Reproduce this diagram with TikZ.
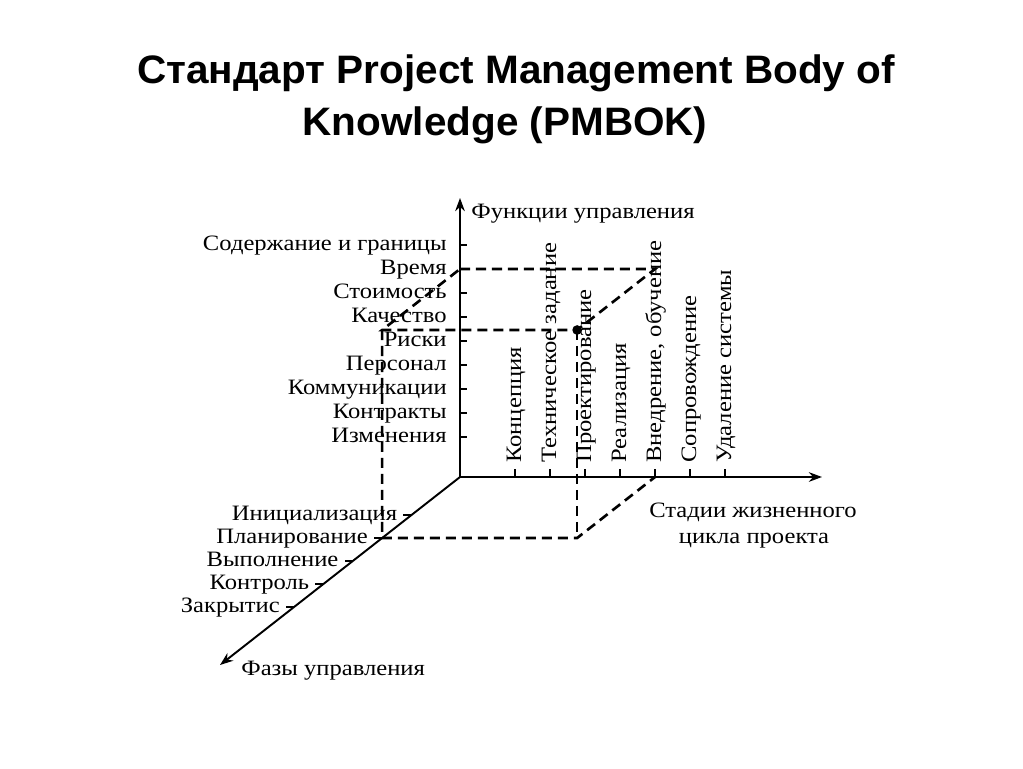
\documentclass[tikz,border=0pt]{standalone}
\usepackage{fontspec}
\setmainfont{Liberation Serif}[FakeStretch=1.12]
\newfontfamily\headfont{Liberation Sans}[FakeStretch=1.02]
\usetikzlibrary{arrows.meta,calc,positioning}
\tikzset{%
	axisline/.style = {line width=1.1pt, -{Stealth[length=7.5pt,width=5.5pt]}},
	tick/.style     = {line width=0.9pt},
	guide/.style    = {line width=1.5pt, dash pattern=on 5.7pt off 3.4pt}, % dashed box
	lbl/.style      = {font=\fontsize{12.5}{14}\selectfont, inner sep=0pt},
	heading/.style  = {font=\headfont\bfseries\fontsize{22.6}{26}\selectfont, inner sep=0pt},
	point/.style    = {circle, fill, inner sep=0pt, minimum size=5.5pt},
}

\begin{document}
\begin{tikzpicture}[x=0.02cm, y=-0.02cm]
	\useasboundingbox (0,0) rectangle (1023,768);
	\node[heading, anchor=base] (t1) at (516,83) {Стандарт Project Management Body of};
	\node[heading, anchor=base] (t2) at (505,135) {Knowledge (PMBOK)};
	% axes
	\coordinate (O) at (460,477);
	\coordinate (fup) at (460,198);
	\coordinate (sright) at (822,477);
	\coordinate (pdown) at (220,665);
	\draw[axisline] (O) -- (fup);
	\draw[axisline] (O) -- (sright);
	\draw[axisline] (O) -- (pdown);
	% functions
	\foreach \txt [count=\i from 0] in {Содержание и границы, Время, Стоимость, Качество, Риски, Персонал, Коммуникации, Контракты, Изменения}{
		\coordinate (ft\i) at (460,245+24*\i);
		\draw[tick] (ft\i) -- ++(7,0);
		\node[lbl, anchor=base east] (f\i) at (447,250+24*\i) {\txt};
	}
	% stages
	\foreach \txt [count=\i from 0] in {Концепция, Техническое задание, Проектирование, Реализация, {Внедрение, обучение}, Сопровождение, Удаление системы}{
		\coordinate (st\i) at (515+35*\i,477);
		\draw[tick] (st\i) -- ++(0,-8);
		\node[lbl, rotate=90, anchor=base west] (s\i) at (521+35*\i,463) {\txt};
	}
	% phases
	\foreach \txt [count=\i from 0] in {Инициализация, Планирование, Выполнение, Контроль, Закрытис}{
		\coordinate (pt\i) at ($(O)!{(38+23*\i)/188}!(pdown)$);
		\draw[tick] (pt\i) -- ++(-8,0);
		\node[lbl, anchor=base east] (p\i) at ($(pt\i)+(-14,5)$) {\txt};
	}
	% box
	\coordinate (A) at ($(ft1)+(pt1)-(O)$);
	\coordinate (Q) at ($(ft1)+(st4)-(O)$);
	\coordinate (P) at ($(A)+(st4)-(O)$);
	\coordinate (F) at ($(pt1)+(st4)-(O)$);
	\draw[guide] (ft1) -- (Q) -- (P) -- (A) -- cycle;
	\draw[guide] (A) -- (pt1) -- (F) -- (st4);
	\draw[guide] (P) -- (F);
	\node[point] (dot) at (P) {};
	% axis labels
	\node[lbl, anchor=base west] (flabel) at (471,218) {Функции управления};
	\node[lbl, anchor=base] (slabel) at (753,517) {Стадии жизненного};
	\node[lbl, anchor=base] (slabel2) at (754,543) {цикла проекта};
	\node[lbl, anchor=base west] (plabel) at (241,675) {Фазы управления};
\end{tikzpicture}
\end{document}
